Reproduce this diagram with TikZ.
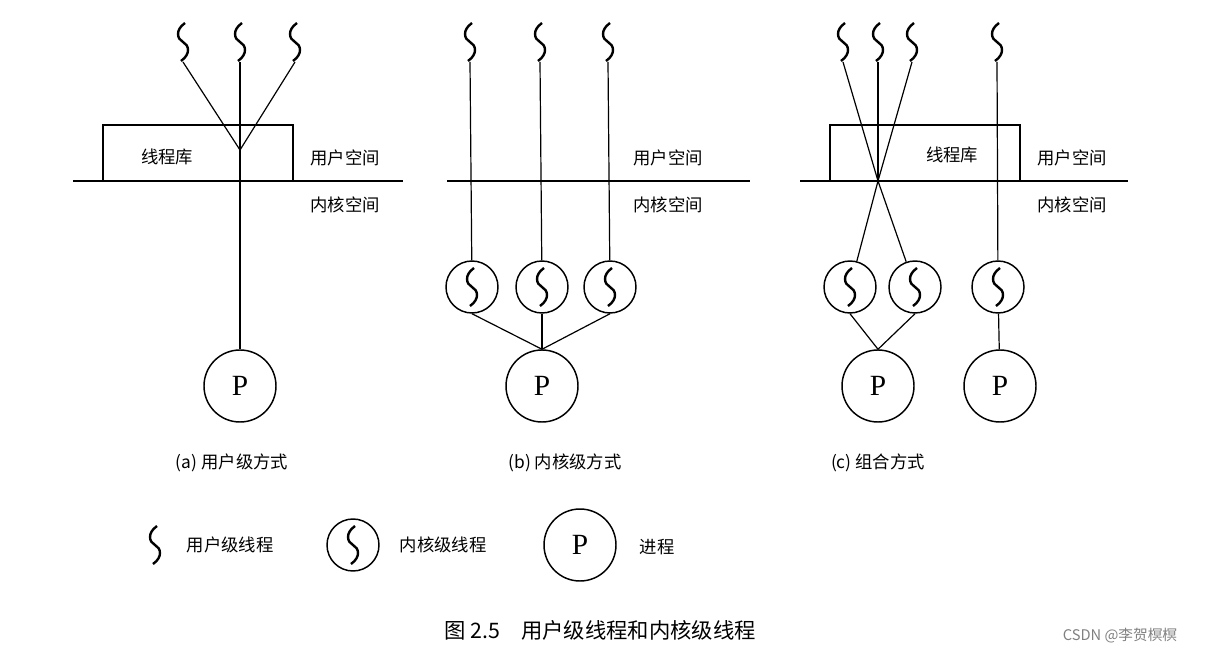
\documentclass[tikz,border=0pt]{standalone}
\usepackage{fontspec}
\setmainfont{Liberation Serif}
\newfontfamily\cjk{Noto Sans CJK SC}
\begin{document}
\begin{tikzpicture}[x=0.75pt,y=-0.75pt,line width=0.9pt,
  lbl/.style={font=\cjk\fontsize{13}{15}\selectfont,inner sep=0pt},
  sq/.pic={\draw[line width=1.8pt] (2,-19) .. controls (-8,-12) and (-6,-3) .. (0,0) .. controls (6,3) and (8,12) .. (-2,19);},
  kc/.style={circle,draw,line width=1.1pt,minimum size=52*0.75pt,inner sep=0pt},
  pc/.style={circle,draw,line width=1.1pt,minimum size=72*0.75pt,inner sep=0pt,font=\fontsize{22}{24}\selectfont}]
\useasboundingbox (0,0) rectangle (1206,656);
% (a)
\foreach \x/\n in {183/a1,240/a2,295/a3}{\pic at (\x,42) {sq}; \coordinate (\n) at (\x,62);}
\coordinate (am) at (240,150);
\draw (103,180) -- (103,125) -- (293,125) -- (293,180);
\node[lbl] at (167,157) {线程库};
\draw (73,181) -- (403,181);
\node[lbl] at (345,158) {用户空间};
\node[lbl] at (345,205) {内核空间};
\node[pc] (ap) at (240,386) {P};
\draw (a1) -- (am) -- (a3); \draw (a2) -- (ap);
% (b)
\draw (447,181) -- (750,181);
\node[lbl] at (668,158) {用户空间};
\node[lbl] at (668,205) {内核空间};
\node[pc] (bp) at (542,386) {P};
\foreach \x/\cx/\n in {470/472/b1,540/542/b2,608/610/b3}{
  \pic at (\x,42) {sq}; \coordinate (\n t) at (\x,62);
  \node[kc] (\n) at (\cx,287) {}; \pic at (\cx,287) {sq};
  \draw (\n t) -- (\n); \draw (\n.south) -- (bp.north);}
% (c)
\draw (830,180) -- (830,125) -- (1020,125) -- (1020,180);
\node[lbl] at (952,155) {线程库};
\draw (800,181) -- (1128,181);
\node[lbl] at (1072,158) {用户空间};
\node[lbl] at (1072,205) {内核空间};
\coordinate (cm) at (878,181);
\foreach \x/\n in {843/c1,878/c2,912/c3}{\pic at (\x,42) {sq}; \coordinate (\n) at (\x,62); \draw (\n) -- (cm);}
\node[kc] (k1) at (850,287) {}; \pic at (850,287) {sq};
\node[kc] (k2) at (915,287) {}; \pic at (915,287) {sq};
\node[kc] (k3) at (998,287) {}; \pic at (998,287) {sq};
\node[pc] (cp1) at (878,386) {P};
\node[pc] (cp2) at (1000,386) {P};
\draw (k1) -- (cm) -- (k2);
\draw (k1.south) -- (cp1.north) -- (k2.south);
\pic at (997,42) {sq}; \coordinate (c4) at (997,62);
\draw (c4) -- (k3); \draw (k3) -- (cp2);
% captions
\node[lbl] at (232,463) {(a) 用户级方式};
\node[lbl] at (565,463) {(b) 内核级方式};
\node[lbl] at (878,463) {(c) 组合方式};
% legend
\pic at (155,545) {sq};
\node[lbl] at (230,545) {用户级线程};
\node[kc] (lk) at (353,545) {}; \pic at (353,545) {sq};
\node[lbl] at (443,545) {内核级线程};
\node[pc] (lp) at (580,545) {P};
\node[lbl] at (657,547) {进程};
\node[font=\cjk\fontsize{16}{18}\selectfont] at (600,630) {图 2.5\quad 用户级线程和内核级线程};
\node[font=\cjk\fontsize{11}{13}\selectfont,text=gray] at (1120,636) {CSDN @李贺榠榠};
\end{tikzpicture}
\end{document}
